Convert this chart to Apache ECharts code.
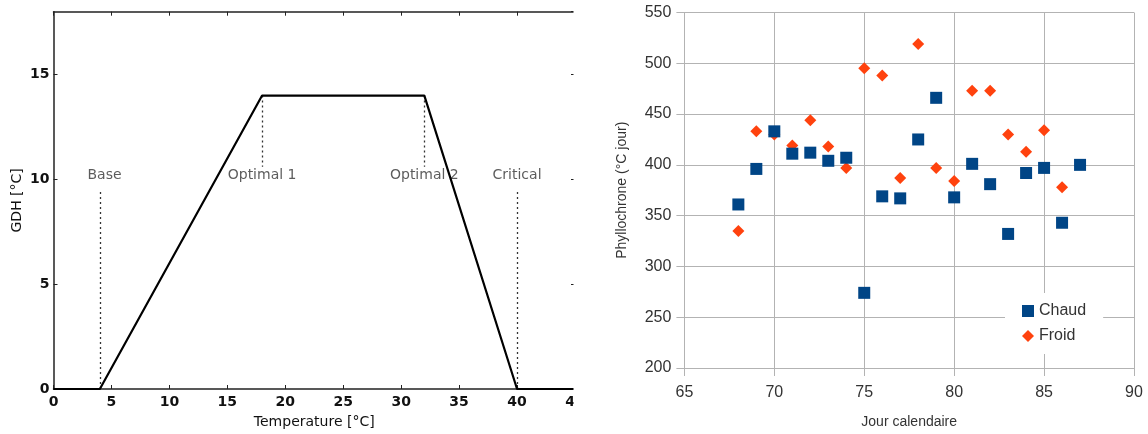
<!DOCTYPE html>
<html>
<head>
<meta charset="utf-8">
<script src="https://cdn.jsdelivr.net/npm/echarts@6/dist/echarts.min.js"></script>
<style>
html,body{margin:0;padding:0;background:#fff;}
#chart{width:1148px;height:434px;}
</style>
</head>
<body>
<div id="chart"></div>
<script>
// ---- Left panel: GDH trapezoid ----
const gdhTemp = [0, 4, 18, 32, 40, 45];
const gdhValue = [0, 0, 14, 14, 0, 0];
const thresholdNames = ['Base', 'Optimal 1', 'Optimal 2', 'Critical'];
const thresholdTemps = [4, 18, 32, 40];
const thresholdLineFrom = [0, 14, 14, 0];
const thresholdLineTo = [9.5, 10.6, 10.6, 9.5];
const thresholdLabelX = [4.4, 18, 32, 40];
const thresholdLabelY = [10.2, 10.2, 10.2, 10.2];

// ---- Right panel: phyllochron scatter ----
const chaudDays = [68, 69, 70, 71, 72, 73, 74, 75, 76, 77, 78, 79, 80, 81, 82, 83, 84, 85, 86, 87];
const chaudValues = [361, 396, 433, 411, 412, 404, 407, 274, 369, 367, 425, 466, 368, 401, 381, 332, 392, 397, 343, 400];
const froidDays = [68, 69, 70, 71, 72, 73, 74, 75, 76, 77, 78, 79, 80, 81, 82, 83, 84, 85, 86];
const froidValues = [335, 433, 430, 419, 444, 418, 397, 495, 488, 387, 519, 397, 384, 473, 473, 430, 413, 434, 378];

const chart = echarts.init(document.getElementById('chart'));

const mplFont = 'DejaVu Sans';
const loFont = 'Liberation Sans';
const axisDark = '#222';
const gridGray = '#b3b3b3';

const option = {
  animation: false,
  backgroundColor: '#fff',
  grid: [
    { left: 53.5, top: 11.7, right: 573, bottom: 45 },
    { left: 684.4, top: 12.5, right: 14, bottom: 61.7 }
  ],
  xAxis: [
    {
      gridIndex: 0, type: 'value', min: 0, max: 45, interval: 5, position: 'bottom',
      axisLine: { onZero: false, lineStyle: { color: axisDark, width: 1.5 } },
      axisTick: { inside: true, length: 4, lineStyle: { color: axisDark } },
      axisLabel: { color: '#111', fontFamily: mplFont, fontSize: 14, fontWeight: 'bold', margin: 6 },
      splitLine: { show: false },
      name: 'Temperature [°C]', nameLocation: 'middle', nameGap: 26,
      nameTextStyle: { color: '#111', fontFamily: mplFont, fontSize: 14 }
    },
    {
      gridIndex: 0, type: 'value', min: 0, max: 45, interval: 5, position: 'top',
      axisLine: { onZero: false, lineStyle: { color: axisDark, width: 1.5 } },
      axisTick: { inside: true, length: 4, lineStyle: { color: axisDark } },
      axisLabel: { show: false },
      splitLine: { show: false }
    },
    {
      gridIndex: 1, type: 'value', min: 65, max: 90, interval: 5, position: 'bottom',
      axisLine: { onZero: false, lineStyle: { color: gridGray, width: 1 } },
      axisTick: { inside: false, length: 8, lineStyle: { color: gridGray } },
      axisLabel: { color: '#333', fontFamily: loFont, fontSize: 16, margin: 17 },
      splitLine: { show: true, lineStyle: { color: gridGray, width: 1 } },
      name: 'Jour calendaire', nameLocation: 'middle', nameGap: 47,
      nameTextStyle: { color: '#333', fontFamily: loFont, fontSize: 14 }
    }
  ],
  yAxis: [
    {
      gridIndex: 0, type: 'value', min: 0, max: 18, interval: 5, position: 'left',
      axisLine: { onZero: false, lineStyle: { color: axisDark, width: 1.5 } },
      axisTick: { inside: true, length: 4, lineStyle: { color: axisDark } },
      axisLabel: { color: '#111', fontFamily: mplFont, fontSize: 14, fontWeight: 'bold', margin: 4, showMaxLabel: false },
      splitLine: { show: false },
      name: 'GDH [°C]', nameLocation: 'middle', nameGap: 29,
      nameTextStyle: { color: '#111', fontFamily: mplFont, fontSize: 14 }
    },
    {
      gridIndex: 0, type: 'value', min: 0, max: 18, interval: 5, position: 'right',
      axisLine: { onZero: false, lineStyle: { color: axisDark, width: 1.5 } },
      axisTick: { inside: true, length: 4, lineStyle: { color: axisDark } },
      axisLabel: { show: false },
      splitLine: { show: false }
    },
    {
      gridIndex: 1, type: 'value', min: 200, max: 550, interval: 50, position: 'left',
      axisLine: { onZero: false, lineStyle: { color: gridGray, width: 1 } },
      axisTick: { inside: false, length: 8, lineStyle: { color: gridGray } },
      axisLabel: { color: '#333', fontFamily: loFont, fontSize: 16, margin: 13 },
      splitLine: { show: true, lineStyle: { color: gridGray, width: 1 } },
      name: 'Phyllochrone (°C jour)', nameLocation: 'middle', nameGap: 55,
      nameTextStyle: { color: '#333', fontFamily: loFont, fontSize: 14 }
    }
  ],
  legend: {
    orient: 'vertical',
    left: 1005, top: 293,
    backgroundColor: '#fff',
    padding: [10, 17, 10, 17],
    itemWidth: 12, itemHeight: 12, itemGap: 9,
    textStyle: { color: '#333', fontFamily: loFont, fontSize: 16 },
    data: [{ name: 'Chaud', icon: 'rect' }, { name: 'Froid', icon: 'diamond' }]
  },
  series: [
    {
      type: 'line', name: 'GDH', xAxisIndex: 0, yAxisIndex: 0,
      data: gdhTemp.map((t, i) => [t, gdhValue[i]]),
      symbol: 'none', lineStyle: { color: '#000', width: 2.2 }, z: 5
    },
    {
      type: 'lines', name: 'thresholds', coordinateSystem: 'cartesian2d', xAxisIndex: 0, yAxisIndex: 0,
      data: thresholdTemps.map((t, i) => ({ coords: [[t, thresholdLineFrom[i]], [t, thresholdLineTo[i]]] })),
      lineStyle: { color: '#333', width: 1.3, type: [2, 3], opacity: 1 }, z: 3
    },
    {
      type: 'scatter', name: 'thresholdLabels', xAxisIndex: 0, yAxisIndex: 0,
      data: thresholdNames.map((n, i) => ({ value: [thresholdLabelX[i], thresholdLabelY[i]], name: n })),
      symbolSize: 0, silent: true,
      label: { show: true, position: 'inside', formatter: p => p.name, color: '#333', fontFamily: mplFont, fontSize: 14 }
    },
    {
      type: 'scatter', name: 'Froid', xAxisIndex: 2, yAxisIndex: 2,
      data: froidDays.map((d, i) => [d, froidValues[i]]),
      symbol: 'diamond', symbolSize: 12, itemStyle: { color: '#ff420e', opacity: 1 }, z: 3
    },
    {
      type: 'scatter', name: 'Chaud', xAxisIndex: 2, yAxisIndex: 2,
      data: chaudDays.map((d, i) => [d, chaudValues[i]]),
      symbol: 'rect', symbolSize: 12, itemStyle: { color: '#004586', opacity: 1 }, z: 4
    }
  ],
  graphic: [
    { type: 'rect', left: 573.5, top: 0, shape: { width: 40, height: 434 }, style: { fill: '#fff' }, z: 100 }
  ]
};

chart.setOption(option);
</script>
</body>
</html>
